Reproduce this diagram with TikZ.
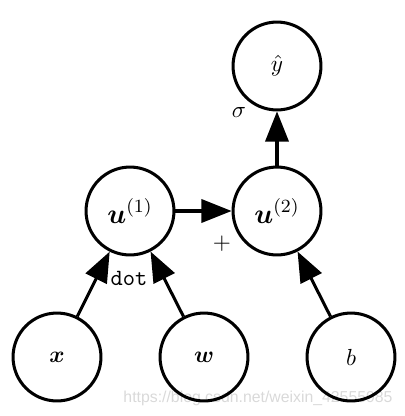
\documentclass[tikz,border=0pt]{standalone}
\usepackage{amsmath,amssymb,bm}
\usepackage{fontspec}
\newfontfamily\wmfont{Liberation Sans}
\usetikzlibrary{arrows.meta}
\tikzset{
  var/.style={draw, circle, line width=1.3pt, minimum size=37.8pt, inner sep=0pt},
  big/.style={font=\fontsize{11.5}{14}\selectfont},
  edge/.style={line width=1.3pt, -{Triangle[length=13pt,width=10pt]}},
  lbl/.style={inner sep=0pt},
}
\begin{document}
\begin{tikzpicture}[x=0.43pt, y=-0.43pt]
\useasboundingbox (0,0) rectangle (404,416);
\node[lbl, text=black!15, font=\wmfont\fontsize{6.8}{8}\selectfont] (wm) at (258,398) {https://blog.csdn.net/weixin\_42555985};
\node[var] (yhat) at (277,66) {$\hat{y}$};
\node[var, big] (u2) at (277,211) {$\bm{u}^{(2)}$};
\node[var, big] (u1) at (130,211) {$\bm{u}^{(1)}$};
\node[var] (x) at (57,357) {$\bm{x}$};
\node[var] (w) at (204,357) {$\bm{w}$};
\node[var] (b) at (351,357) {$b$};
\node[lbl] (sigma) at (239,112) {$\sigma$};
\node[lbl] (plus) at (222,244) {$+$};
\node[lbl] (dot) at (129,278) {\texttt{dot}};
\draw[edge] (x) -- (u1);
\draw[edge] (w) -- (u1);
\draw[edge] (u1) -- (u2);
\draw[edge] (b) -- (u2);
\draw[edge] (u2) -- (yhat);
\end{tikzpicture}
\end{document}
